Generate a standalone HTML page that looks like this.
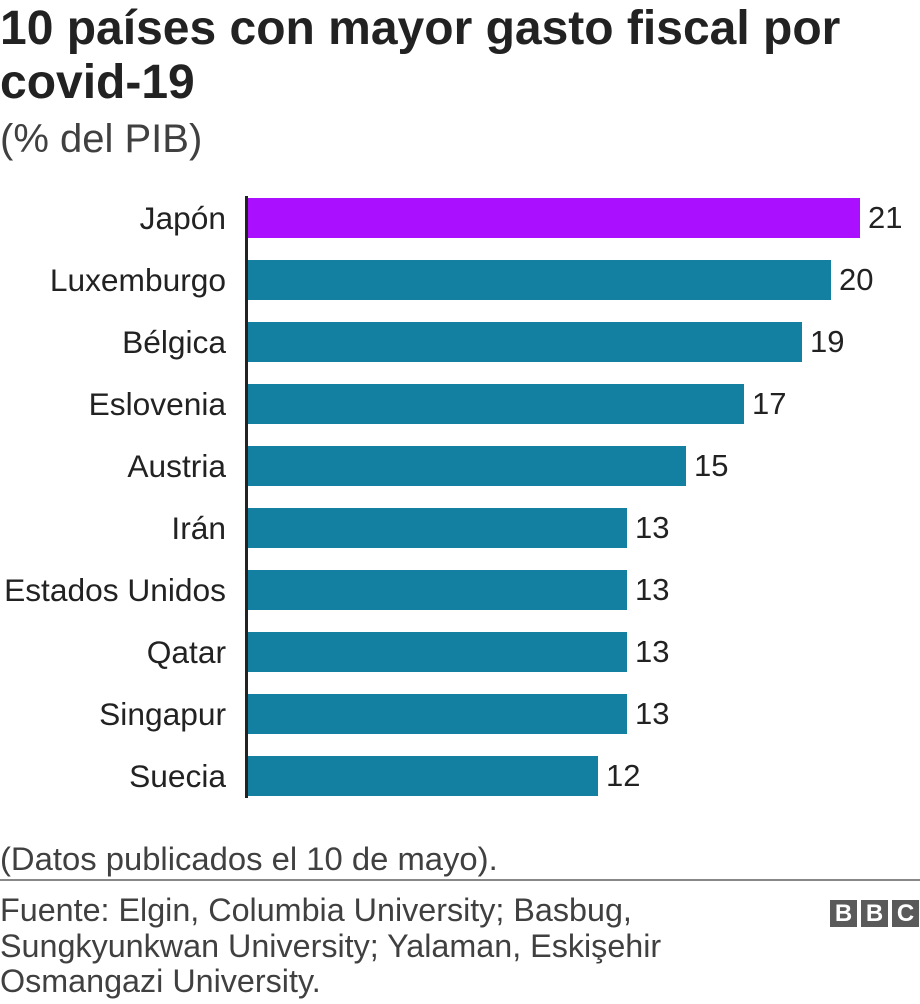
<!DOCTYPE html>
<html><head><meta charset="utf-8"><style>
body{margin:0;width:920px;height:1004px;background:#fff;font-family:"Liberation Sans",Arial,sans-serif;color:#222;position:relative;overflow:hidden}
.t{position:absolute;left:0;top:2px;font-size:48px;font-weight:bold;line-height:54px;color:#222;white-space:nowrap}
.s{position:absolute;left:0;top:117px;font-size:40px;color:#404040}
.row{position:absolute;left:0;width:920px;height:40px}
.lab{position:absolute;right:694px;font-size:31.7px;line-height:40px;white-space:nowrap}
.bar{position:absolute;left:248px;height:40px;background:#1380a1}
.v{position:absolute;font-size:31px;line-height:40px}
.ax{position:absolute;left:245px;top:196px;width:3px;height:602px;background:#222}
.note{position:absolute;left:0;top:840px;font-size:32.8px;color:#404040;white-space:nowrap}
.hr{position:absolute;left:0;top:879px;width:920px;height:2px;background:#888}
.src{position:absolute;left:0;top:893px;font-size:32.3px;line-height:35.5px;color:#404040;white-space:nowrap}
.bbc{position:absolute;top:900px;width:27px;height:27px;background:#5a5a5a;color:#fff;font-weight:bold;font-size:24px;line-height:27px;text-align:center}
</style></head><body>
<div class="t">10 países con mayor gasto fiscal por<br>covid-19</div>
<div class="s">(% del PIB)</div>
<div class="row" style="top:198px"><div class="lab">Japón</div><div class="bar" style="width:612px;background:#aa10ff"></div><div class="v" style="left:868px">21</div></div>
<div class="row" style="top:260px"><div class="lab">Luxemburgo</div><div class="bar" style="width:583px"></div><div class="v" style="left:839px">20</div></div>
<div class="row" style="top:322px"><div class="lab">Bélgica</div><div class="bar" style="width:554px"></div><div class="v" style="left:810px">19</div></div>
<div class="row" style="top:384px"><div class="lab">Eslovenia</div><div class="bar" style="width:496px"></div><div class="v" style="left:752px">17</div></div>
<div class="row" style="top:446px"><div class="lab">Austria</div><div class="bar" style="width:438px"></div><div class="v" style="left:694px">15</div></div>
<div class="row" style="top:508px"><div class="lab">Irán</div><div class="bar" style="width:379px"></div><div class="v" style="left:635px">13</div></div>
<div class="row" style="top:570px"><div class="lab">Estados Unidos</div><div class="bar" style="width:379px"></div><div class="v" style="left:635px">13</div></div>
<div class="row" style="top:632px"><div class="lab">Qatar</div><div class="bar" style="width:379px"></div><div class="v" style="left:635px">13</div></div>
<div class="row" style="top:694px"><div class="lab">Singapur</div><div class="bar" style="width:379px"></div><div class="v" style="left:635px">13</div></div>
<div class="row" style="top:756px"><div class="lab">Suecia</div><div class="bar" style="width:350px"></div><div class="v" style="left:606px">12</div></div>
<div class="ax"></div>
<div class="note">(Datos publicados el 10 de mayo).</div>
<div class="hr"></div>
<div class="src">Fuente: Elgin, Columbia University; Basbug,<br>Sungkyunkwan University; Yalaman, Eskişehir<br>Osmangazi University.</div>
<div class="bbc" style="left:830px">B</div><div class="bbc" style="left:861px">B</div><div class="bbc" style="left:892px">C</div>
</body></html>
